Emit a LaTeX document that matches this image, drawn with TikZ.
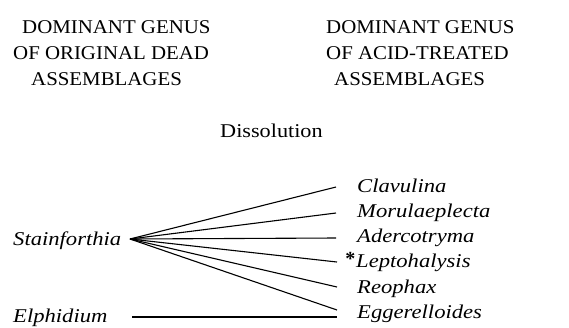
\documentclass[tikz,border=0pt]{standalone}
\usepackage{fontspec}
\setmainfont{Liberation Serif}
\newfontfamily\headfont[FakeStretch=1.07]{Liberation Serif}
\newfontfamily\dissfont[FakeStretch=1.14]{Liberation Serif}
\newfontfamily\genfont[FakeStretch=1.16]{Liberation Serif}
\begin{document}
\begin{tikzpicture}[x=1pt,y=-1pt,
  head/.style={anchor=base west,inner sep=0pt,font=\headfont\fontsize{19.5}{22}\selectfont},
  genus/.style={anchor=base west,inner sep=0pt,font=\genfont\fontsize{19.5}{22}\selectfont\itshape},
  link/.style={line width=1.1pt}]
\useasboundingbox (0,0) rectangle (569,327);
% headers
\node[head] (h1a) at (22,33) {DOMINANT GENUS};
\node[head] (h1b) at (13,59) {OF ORIGINAL DEAD};
\node[head] (h1c) at (31,85) {ASSEMBLAGES};
\node[head] (h2a) at (326,33) {DOMINANT GENUS};
\node[head] (h2b) at (326,59) {OF ACID-TREATED};
\node[head] (h2c) at (334,85) {ASSEMBLAGES};
\node[anchor=base west,inner sep=0pt,font=\dissfont\fontsize{19.5}{22}\selectfont] (diss) at (220,137) {Dissolution};
% left genera
\node[genus] (stain) at (13,245) {Stainforthia};
\node[genus] (elph) at (13,322) {Elphidium};
% right genera
\node[genus] (clav) at (357,192) {Clavulina};
\node[genus] (moru) at (357,217) {Morulaeplecta};
\node[genus] (ader) at (357,242) {Adercotryma};
\node[genus] (lept) at (356,267) {Leptohalysis};
\node[anchor=base east,inner sep=0pt,font=\fontsize{20}{22}\selectfont\bfseries] (star) at ([xshift=-0.5pt,yshift=2pt]lept.base west) {*};
\node[genus] (reop) at (357,293) {Reophax};
\node[genus] (egge) at (357,318) {Eggerelloides};
% connectors
\coordinate (apex) at (130,239);
\coordinate (e1) at (336,187);
\coordinate (e2) at (336,213);
\coordinate (e3) at (336,238);
\coordinate (e4) at (337,262);
\coordinate (e5) at (337,287);
\coordinate (e6) at (337,310);
\coordinate (el0) at (132,317);
\coordinate (el1) at (337,317);
\foreach \e in {e1,e2,e3,e4,e5,e6} \draw[link] (apex) -- (\e);
\draw[link] (el0) -- (el1);
\end{tikzpicture}
\end{document}
